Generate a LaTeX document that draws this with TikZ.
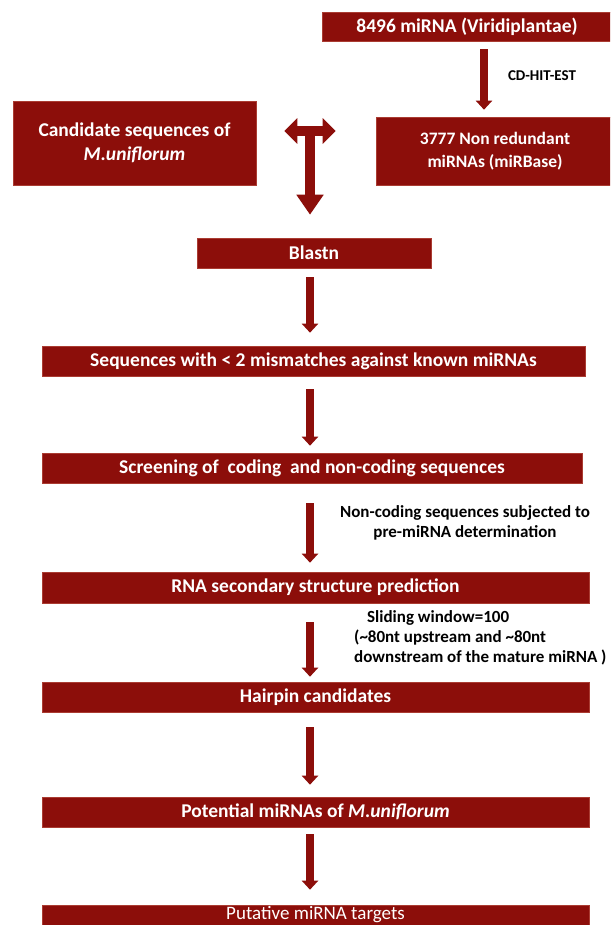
\documentclass[tikz,border=0pt]{standalone}
\usepackage{fontspec}
\setmainfont{Carlito}
\usetikzlibrary{arrows.meta}
\definecolor{boxred}{RGB}{140,14,10}
\definecolor{edgered}{RGB}{170,60,50}
\tikzset{
  flowbox/.style={fill=boxred, draw=edgered, line width=0.6pt, text=white, font=\bfseries\fontsize{19.5}{23}\selectfont, inner sep=0pt, align=center},
  flowarr/.style={draw=boxred, line width=7.5pt, -{Triangle[width=16pt,length=9pt]}},
  tarr/.style={draw=boxred, line width=10pt, {Triangle[width=25pt,length=13pt]}-{Triangle[width=25pt,length=13pt]}},
  tstem/.style={draw=boxred, line width=10pt, -{Triangle[width=26pt,length=20pt]}},
  lbl/.style={font=\bfseries\fontsize{17}{20}\selectfont, text=black, inner sep=0pt},
}
\begin{document}
\begin{tikzpicture}[x=1pt,y=-1pt]
\useasboundingbox (0,0) rectangle (610,925);
\clip (0,0) rectangle (610,925);
% boxes
\node[flowbox, minimum width=290pt, minimum height=29pt] (b1) at (467,26.5) {8496 miRNA (Viridiplantae)};
\node[flowbox, minimum width=243pt, minimum height=84pt, font=\bfseries\fontsize{19.5}{24}\selectfont] (cand) at (134.5,143) {Candidate sequences of\\\textit{M.uniflorum}};
\node[flowbox, minimum width=238pt, minimum height=68pt, font=\bfseries\fontsize{17.5}{23}\selectfont] (nr) at (495,151) {3777 Non redundant\\miRNAs (miRBase)};
\node[flowbox, minimum width=234pt, minimum height=30pt] (blast) at (314,253) {Blastn};
\node[flowbox, minimum width=543pt, minimum height=30pt] (seq) at (313.5,361) {Sequences with < 2 mismatches against known miRNAs};
\node[flowbox, minimum width=540pt, minimum height=30pt] (scr) at (312,468) {Screening of \ coding \ and non-coding sequences};
\node[flowbox, minimum width=547pt, minimum height=31pt] (rna) at (315.5,587.5) {RNA secondary structure prediction};
\node[flowbox, minimum width=547pt, minimum height=30pt] (hair) at (315.5,697) {Hairpin candidates};
\node[flowbox, minimum width=547pt, minimum height=30pt] (pot) at (315.5,812) {Potential miRNAs of \textit{M.uniflorum}};
\node[flowbox, minimum width=547pt, minimum height=20pt, font=\fontsize{19}{22}\selectfont] (put) at (315.5,915) {Putative miRNA targets};
% coordinates for arrow columns
\coordinate (ax) at (310,0);
\coordinate (cx) at (484,0);
\coordinate (tj) at (310,131);
% CD-HIT arrow
\draw[flowarr, shorten <=8pt, shorten >=7pt] (b1.south -| cx) -- (nr.north -| cx);
\node[lbl, font=\bfseries\fontsize{15}{18}\selectfont] (cdhit) at (542,76) {CD-HIT-EST};
% T arrow
\draw[tarr, shorten <=28pt, shorten >=40pt] (cand.east |- tj) -- (nr.west |- tj);
\draw[tstem, shorten >=23pt] (tj) -- (blast.north -| tj);
% main arrows
\draw[flowarr, shorten <=9pt, shorten >=13pt] (blast.south -| ax) -- (seq.north -| ax);
\draw[flowarr, shorten <=13pt, shorten >=7pt] (seq.south -| ax) -- (scr.north -| ax);
\draw[flowarr, shorten <=20pt, shorten >=9pt] (scr.south -| ax) -- (rna.north -| ax);
\draw[flowarr, shorten <=19pt, shorten >=5pt] (rna.south -| ax) -- (hair.north -| ax);
\draw[flowarr, shorten <=15pt, shorten >=12pt] (hair.south -| ax) -- (pot.north -| ax);
\draw[flowarr, shorten <=7pt, shorten >=15pt] (pot.south -| ax) -- (put.north -| ax);
% labels
\node[lbl, align=center] (nclbl) at (465,523) {Non-coding sequences subjected to\\pre-miRNA determination};
\node[lbl, align=left, anchor=west] (swlbl) at (354,638) {\hspace*{13pt}Sliding window=100\\(\textasciitilde80nt upstream and \textasciitilde80nt\\downstream of the mature miRNA )};
\end{tikzpicture}
\end{document}
